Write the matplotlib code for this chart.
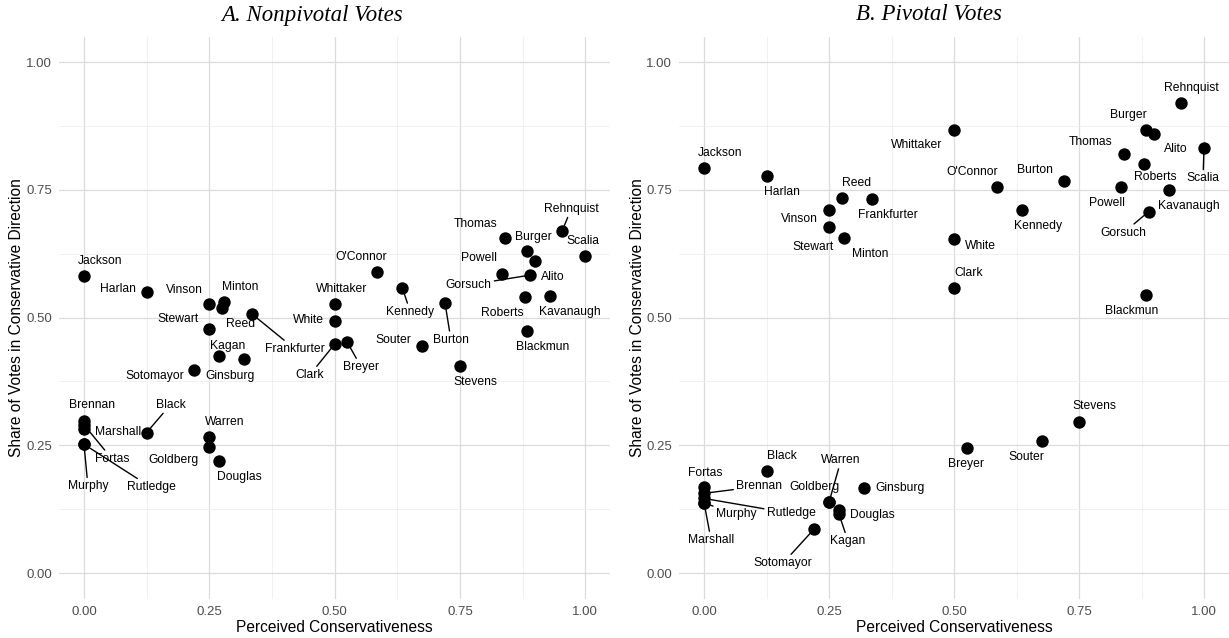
import matplotlib
matplotlib.use("Agg")
import matplotlib.pyplot as plt
import numpy as np

# ---------------- data ----------------
justices = ["Jackson", "Harlan", "Vinson", "Minton", "Reed", "Stewart", "Frankfurter",
            "Kagan", "Ginsburg", "Sotomayor", "Whittaker", "White", "Clark", "Breyer",
            "O'Connor", "Kennedy", "Burton", "Souter", "Stevens", "Powell", "Gorsuch",
            "Alito", "Roberts", "Kavanaugh", "Blackmun", "Burger", "Thomas", "Rehnquist",
            "Scalia", "Brennan", "Fortas", "Marshall", "Murphy", "Rutledge", "Black",
            "Warren", "Goldberg", "Douglas"]

perceived = [0.0, 0.125, 0.25, 0.28, 0.275, 0.25, 0.335,
             0.27, 0.32, 0.22, 0.5, 0.5, 0.5, 0.525,
             0.585, 0.635, 0.72, 0.675, 0.75, 0.834, 0.889,
             0.9, 0.88, 0.93, 0.884, 0.884, 0.84, 0.954,
             1.0, 0.0, 0.0, 0.0, 0.0, 0.0, 0.125,
             0.25, 0.25, 0.27]

share_nonpivotal = [0.581, 0.550, 0.526, 0.530, 0.519, 0.477, 0.507,
                    0.425, 0.419, 0.397, 0.526, 0.494, 0.448, 0.452,
                    0.589, 0.558, 0.529, 0.445, 0.406, 0.585, 0.583,
                    0.611, 0.540, 0.542, 0.474, 0.630, 0.656, 0.670,
                    0.620, 0.298, 0.290, 0.281, 0.252, 0.252, 0.275,
                    0.266, 0.247, 0.220]

share_pivotal = [0.793, 0.777, 0.710, 0.655, 0.734, 0.678, 0.732,
                 0.115, 0.167, 0.086, 0.867, 0.653, 0.557, 0.244,
                 0.755, 0.711, 0.768, 0.258, 0.296, 0.755, 0.707,
                 0.859, 0.801, 0.749, 0.545, 0.868, 0.820, 0.919,
                 0.831, 0.156, 0.169, 0.137, 0.137, 0.146, 0.200,
                 0.139, 0.139, 0.124]

ticks = [0.0, 0.25, 0.5, 0.75, 1.0]
tick_labels = ["0.00", "0.25", "0.50", "0.75", "1.00"]
titles = ["A. Nonpivotal Votes", "B. Pivotal Votes"]
xlabel = "Perceived Conservativeness"
ylabel = "Share of Votes in Conservative Direction"

# ---------------- label layout (pixel offsets, image convention: +y down) ----------------
offs_left = {
    "Jackson": (16, -15), "Harlan": (-29, -3), "Vinson": (-25, -14), "Minton": (16, -15),
    "Reed": (19, 16), "Stewart": (-31, -10), "Frankfurter": (43, 35), "Kagan": (8, -10),
    "Ginsburg": (-14, 17), "Sotomayor": (-40, 6), "Whittaker": (7, -15), "White": (-26, -1),
    "Clark": (-25, 31), "Breyer": (14, 25), "O'Connor": (-16, -15), "Kennedy": (8, 24),
    "Burton": (6, 37), "Souter": (-29, -6), "Stevens": (15, 16), "Powell": (-23, -16),
    "Gorsuch": (-61, 10), "Alito": (18, 16), "Roberts": (-23, 16), "Kavanaugh": (20, 16),
    "Blackmun": (15, 16), "Burger": (6, -14), "Thomas": (-30, -14), "Rehnquist": (9, -22),
    "Scalia": (-2, -15), "Brennan": (8, -16), "Fortas": (28, 34), "Marshall": (34, 3),
    "Murphy": (4, 42), "Rutledge": (67, 43), "Black": (24, -28), "Warren": (15, -15),
    "Goldberg": (-36, 13), "Douglas": (20, 16),
}
seg_left = {"Frankfurter", "Clark", "Breyer", "Kennedy", "Burton", "Gorsuch", "Rehnquist",
            "Black", "Fortas", "Murphy", "Rutledge"}

offs_right = {
    "Jackson": (16, -15), "Harlan": (15, 16), "Reed": (15, -15), "Frankfurter": (16, 16),
    "Vinson": (-30, 9), "Stewart": (-16, 20), "Minton": (26, 16), "Whittaker": (-37, 15),
    "O'Connor": (-24, -15), "White": (26, 7), "Clark": (15, -15), "Kennedy": (17, 16),
    "Burton": (-29, -11), "Powell": (-14, 16), "Thomas": (-33, -12), "Roberts": (11, 13),
    "Burger": (-18, -15), "Alito": (22, 15), "Rehnquist": (10, -15), "Scalia": (-1, 30),
    "Kavanaugh": (20, 16), "Gorsuch": (-25, 21), "Blackmun": (-14, 16), "Breyer": (-1, 16),
    "Souter": (-15, 16), "Stevens": (15, -16), "Black": (15, -15), "Fortas": (1, -14),
    "Brennan": (55, -7), "Rutledge": (87, 15), "Murphy": (32, 11), "Marshall": (7, 37),
    "Warren": (12, -42), "Goldberg": (-15, -15), "Douglas": (33, 5), "Kagan": (9, 27),
    "Ginsburg": (36, 0), "Sotomayor": (-31, 34),
}
seg_right = {"Scalia", "Gorsuch", "Warren", "Kagan", "Sotomayor", "Brennan", "Murphy",
             "Rutledge", "Marshall"}

W, H = 1229, 638
fig = plt.figure(figsize=(W / 100, H / 100), dpi=100)

sans = "Liberation Sans"
panels = [
    (share_nonpivotal, offs_left, seg_left, [58.9 / W, 1 - 598.6 / H, 551.5 / W, 562.1 / H]),
    (share_pivotal, offs_right, seg_right, [679.1 / W, 1 - 598.6 / H, 549.9 / W, 562.1 / H]),
]

axes = []
for shares, offs, segs, pos in panels:
    ax = fig.add_axes(pos)
    axes.append(ax)
    ax.set_xlim(-0.05, 1.05)
    ax.set_ylim(-0.05, 1.05)
    for s in ax.spines.values():
        s.set_visible(False)
    ax.set_xticks(ticks)
    ax.set_xticklabels(tick_labels)
    ax.set_yticks(ticks)
    ax.set_yticklabels(tick_labels)
    minor = [0.125, 0.375, 0.625, 0.875]
    ax.set_xticks(minor, minor=True)
    ax.set_yticks(minor, minor=True)
    ax.tick_params(which="both", length=0)
    ax.tick_params(which="major", pad=5, labelsize=9.5, labelcolor="#4d4d4d")
    for lab in ax.get_xticklabels() + ax.get_yticklabels():
        lab.set_family(sans)
    ax.grid(which="major", color="#dcdcdc", lw=0.9)
    ax.grid(which="minor", color="#ececec", lw=0.5)
    ax.set_axisbelow(True)

    ax.scatter(perceived, shares, s=80, color="black", zorder=4, linewidths=0)

    for name, xv, yv in zip(justices, perceived, shares):
        dx, dy = offs[name]
        ap = None
        if name in segs:
            ap = dict(arrowstyle="-", color="black", lw=1.0, shrinkA=0, shrinkB=0)
        ax.annotate(name, (xv, yv), xytext=(dx, -dy), textcoords="offset pixels",
                    ha="center", va="center", fontsize=8.7, family=sans,
                    color="black", arrowprops=ap, zorder=3)

# titles and axis labels
fig.text(312 / W, 1 - 15 / H, titles[0], ha="center", va="center",
         family="Liberation Serif", style="italic", fontsize=16.5)
fig.text(929 / W, 1 - 15 / H, titles[1], ha="center", va="center",
         family="Liberation Serif", style="italic", fontsize=16.5)

for xc in [334.6, 954.0]:
    fig.text(xc / W, 1 - 627 / H, xlabel, ha="center", va="center", family=sans, fontsize=11.2)
for xc in [17, 637]:
    fig.text(xc / W, 1 - 317.5 / H, ylabel, ha="center", va="center", rotation=90,
             family=sans, fontsize=11.2)

fig.savefig("out.png", dpi=100, facecolor="white")
